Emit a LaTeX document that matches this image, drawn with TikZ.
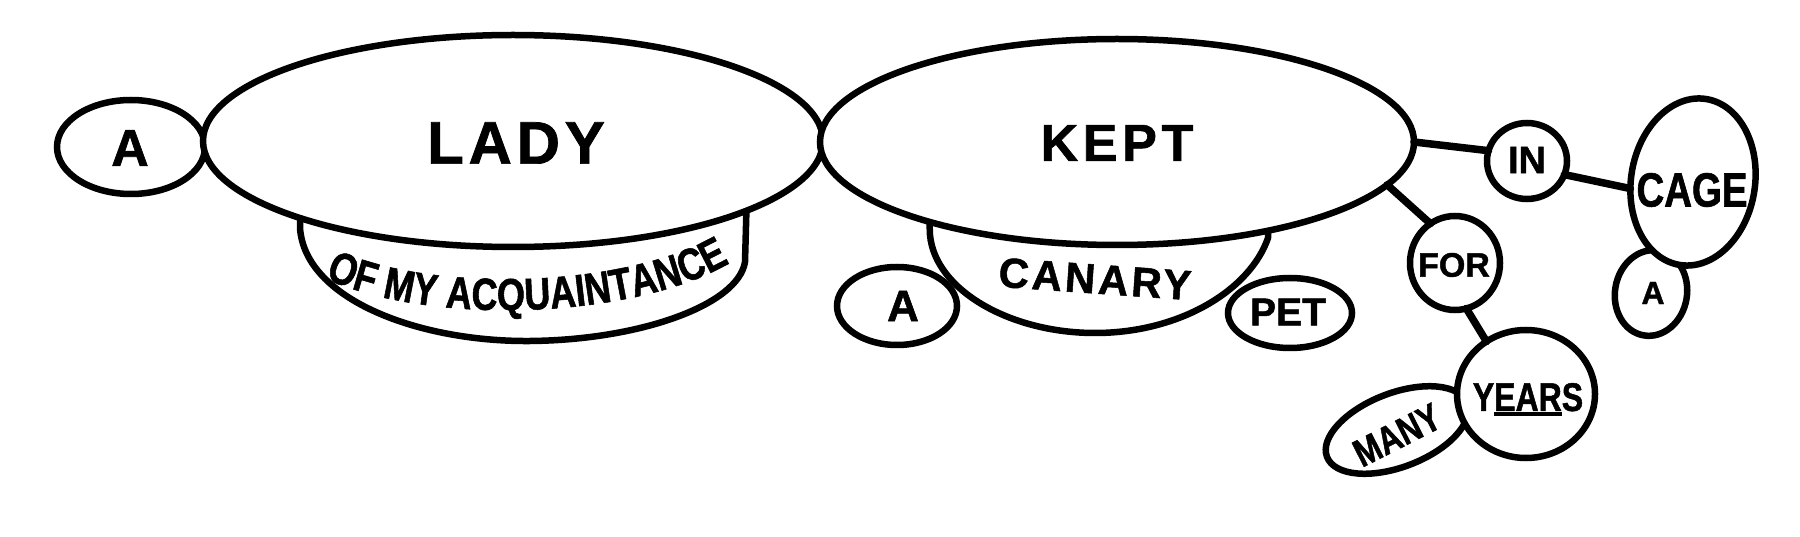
\documentclass[tikz,border=0pt]{standalone}
\usepackage{fontspec}
\setmainfont{Liberation Sans}[BoldFeatures={FakeBold=1.2}]
\newfontfamily\condfont{Liberation Sans}[FakeStretch=0.8, BoldFeatures={FakeBold=1.2, FakeStretch=0.8}]
\usetikzlibrary{shapes.geometric,decorations.text}
\newcommand\thickul[1]{\vtop{\hbox{#1}\kern1.5pt\hrule height 3.5pt}}
\newcommand\acqfont{\condfont\fontsize{45}{45}\selectfont\bfseries}
\tikzset{
  ink/.style={line width=6.5pt, draw=black},
  blob/.style={ellipse, ink, fill=white, inner sep=0pt, outer sep=0pt},
  link/.style={line width=7.5pt, draw=black, line cap=round},
  txt/.style={inner sep=0pt, text=black, font=\fontsize{#1}{#1}\selectfont\bfseries},
  ctxt/.style={inner sep=0pt, text=black, font=\condfont\fontsize{#1}{#1}\selectfont\bfseries},
}
\begin{document}
\begin{tikzpicture}[x=1pt,y=-1pt]
\fill[white] (0,0) rectangle (1800,537);
\useasboundingbox (0,0) rectangle (1800,537);

% bowls under LADY and KEPT
\draw[ink, fill=white, line join=round] (300,190) -- (300,228)
  .. controls (305,300) and (420,342) .. (530,341)
  .. controls (640,340) and (738,305) .. (745,262) -- (747,190) -- cycle;
\draw[ink, fill=white, line join=round] (928,190) -- (930,235)
  .. controls (935,290) and (1010,333) .. (1095,333)
  .. controls (1180,333) and (1250,290) .. (1268,238) -- (1270,190) -- cycle;

% main ellipses
\node[blob, minimum width=148pt, minimum height=94pt] (aL) at (131,147) {};
\node[blob, minimum width=620pt, minimum height=212pt] (lady) at (513,141) {};
\node[blob, minimum width=594pt, minimum height=206pt] (kept) at (1117,142) {};

% small ellipses
\node[blob, minimum width=120pt, minimum height=78pt] (aC) at (897,306) {};
\node[blob, minimum width=124pt, minimum height=70pt] (pet) at (1290,313) {};
\node[blob, minimum width=80pt, minimum height=76pt] (in) at (1527,161) {};
\node[blob, minimum width=90pt, minimum height=94pt] (for) at (1455,263) {};
\node[blob, minimum width=72pt, minimum height=86pt, rotate=-10] (aG) at (1651,293) {};
\node[blob, minimum width=124pt, minimum height=168pt, rotate=-9] (cage) at (1693,182) {};
\node[blob, minimum width=150pt, minimum height=74pt, rotate=21] (many) at (1397,430) {};
\node[blob, minimum width=138pt, minimum height=128pt] (years) at (1526,394) {};

% connectors
\draw[link] (kept.east) -- (in.165);
\draw[link] (in.-20) -- (cage.195);
\draw[link] (kept.-9) -- (for.122);
\draw[link] (for.-76) -- (years.127);

% words
\node[txt=52] (tA1) at (130,148) {A};
\node[txt=60] (tLady) at (516,143) {\addfontfeature{LetterSpace=8}LADY};
\node[txt=52] (tKept) at (1117,143) {\addfontfeature{LetterSpace=9}KEPT};
\node[txt=42, rotate=-4] (tCanary) at (1095,279) {\addfontfeature{LetterSpace=7}CANARY};
\node[txt=44] (tA2) at (903,306) {A};
\node[txt=39] (tPet) at (1288,312) {PET};
\node[txt=38] (tIn) at (1527,160) {IN};
\node[txt=34] (tFor) at (1454,265) {FOR};
\node[ctxt=48] (tCage) at (1692,190) {CAGE};
\node[txt=32] (tA3) at (1653,293) {A};
\node[ctxt=40] (tYears) at (1528,399.5) {Y\thickul{EAR}S};
\node[ctxt=39, rotate=27] (tMany) at (1397,435) {MANY};
\path[decorate, decoration={text along path, text={|\acqfont|OF MY ACQUAINTANCE}, text align=center}]
  (312,272) .. controls (420,330) and (650,320) .. (742,255);
\end{tikzpicture}
\end{document}
